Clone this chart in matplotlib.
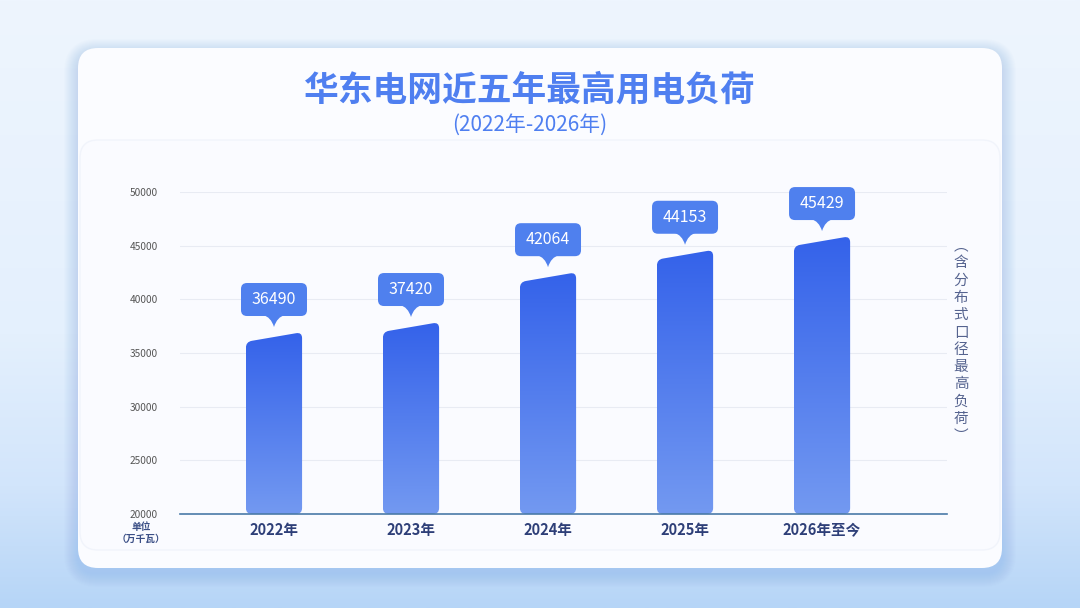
import matplotlib
matplotlib.use('Agg')
import matplotlib.pyplot as plt
import matplotlib.transforms as mtransforms
import numpy as np
from matplotlib.patches import FancyBboxPatch, PathPatch
from matplotlib.path import Path
from matplotlib.colors import LinearSegmentedColormap

plt.rcParams['font.family'] = ['Noto Sans CJK SC', 'DejaVu Sans']

# data
years = ['2022年', '2023年', '2024年', '2025年', '2026年至今']
peak_load = [36490, 37420, 42064, 44153, 45429]
y_ticks = [20000, 25000, 30000, 35000, 40000, 45000, 50000]
title = '华东电网近五年最高用电负荷'
subtitle = '(2022年-2026年)'
unit_lines = ['单位', '（万千瓦）']
side_note = '︵含分布式口径最高负荷︶'

W, H = 1080, 608
fig = plt.figure(figsize=(W / 100, H / 100), dpi=100)
ident = mtransforms.IdentityTransform()


def rounded_path(pts, radii):
    """closed polygon with rounded corners (display coords)"""
    pts = [np.asarray(p, float) for p in pts]
    n = len(pts)
    verts, codes = [], []
    for k in range(n):
        p = pts[k]
        a = pts[k - 1]
        b = pts[(k + 1) % n]
        r = radii[k]
        da = (a - p) / np.linalg.norm(a - p)
        db = (b - p) / np.linalg.norm(b - p)
        verts += [p + da * r, p, p + db * r]
        codes += [Path.MOVETO if k == 0 else Path.LINETO, Path.CURVE3, Path.CURVE3]
    verts.append(verts[0])
    codes.append(Path.CLOSEPOLY)
    return Path(verts, codes)


# ---- background ----
bg = fig.add_axes([0, 0, 1, 1])
bg.set_axis_off()
bg.set_xlim(0, W)
bg.set_ylim(H, 0)
bg_cmap = LinearSegmentedColormap.from_list(
    'bg', [(0, '#eef5fe'), (0.55, '#e4f0fd'), (0.8, '#d2e5fb'), (1, '#b6d5f7')])
grad = np.linspace(0, 1, 256).reshape(-1, 1)
bg.imshow(grad, extent=[0, W, H, 0], aspect='auto', cmap=bg_cmap, zorder=0)

# card shadow (soft blue glow)
for k in range(14, 0, -1):
    bg.add_patch(FancyBboxPatch((78 - k, 48 - k + 5), 924 + 2 * k, 520 + 2 * k,
                                boxstyle='round,pad=0,rounding_size=%d' % (20 + k),
                                fc='#7ea6f0', ec='none', alpha=0.025, zorder=1))
bg.add_patch(FancyBboxPatch((78, 48), 924, 520, boxstyle='round,pad=0,rounding_size=20',
                            fc='#fbfcff', ec='none', zorder=2))
bg.add_patch(FancyBboxPatch((80, 140), 920, 410, boxstyle='round,pad=0,rounding_size=18',
                            fc='#fafbff', ec='#f1f4fb', lw=1.0, zorder=3))

# ---- titles ----
fig.text(530 / W, 1 - 90 / H, title, ha='center', va='center', fontsize=25,
         fontweight='black', color='#4f7ff0')
fig.text(530 / W, 1 - 125 / H, subtitle, ha='center', va='center', fontsize=15,
         fontweight='medium', color='#4f7ff0')

# ---- chart ----
ax = fig.add_axes([180 / W, (H - 514) / H, 767 / W, 322 / H])
ax.patch.set_alpha(0)
ax.set_xlim(-0.686, 4.912)
ax.set_ylim(20000, 50000)
for s in ['top', 'right', 'left']:
    ax.spines[s].set_visible(False)
ax.spines['bottom'].set_color('#4a7aa8')
ax.spines['bottom'].set_linewidth(1.2)
ax.spines['bottom'].set_zorder(5)
ax.set_yticks(y_ticks)
ax.set_yticklabels([str(t) for t in y_ticks], fontsize=7.3, color='#555555')
ax.tick_params(axis='y', length=0, pad=16)
ax.grid(axis='y', color='#e8ebf3', linewidth=0.8)
ax.set_axisbelow(True)
x_pos = np.arange(len(years))
ax.set_xticks(x_pos)
ax.set_xticklabels(years, fontsize=10.5, fontweight='bold', color='#2e3f78')
ax.tick_params(axis='x', length=0, pad=6)

bar_cmap = LinearSegmentedColormap.from_list('bar', ['#7399f1', '#3462ea'])
bar_w = 0.41
slant = 450
for i, v in zip(x_pos, peak_load):
    bl = ax.transData.transform((i - bar_w / 2, 20000))
    br = ax.transData.transform((i + bar_w / 2, 20000))
    tr = ax.transData.transform((i + bar_w / 2, v + slant))
    tl = ax.transData.transform((i - bar_w / 2, v - slant))
    clip = PathPatch(rounded_path([bl, br, tr, tl], [6, 6, 6, 6]), transform=ident)
    g = np.linspace(0, 1, 256).reshape(-1, 1)[::-1]
    im = ax.imshow(g, extent=[i - bar_w / 2, i + bar_w / 2, 20000, v + slant],
                   aspect='auto', cmap=bar_cmap, origin='upper', zorder=3)
    im.set_clip_path(clip)

    # bubble label
    cx, cy = ax.transData.transform((i, v))
    tip_y = cy + 10
    bw, bh = 66, 33
    b_bottom = tip_y + 11
    box = FancyBboxPatch((cx - bw / 2, b_bottom), bw, bh,
                         boxstyle='round,pad=0,rounding_size=6',
                         fc='#4f80ee', ec='none', transform=ident, zorder=6)
    fig.add_artist(box)
    pointer = Path([(cx - 11, b_bottom + 1), (cx - 3, b_bottom - 1), (cx, tip_y),
                    (cx + 3, b_bottom - 1), (cx + 11, b_bottom + 1), (cx - 11, b_bottom + 1)],
                   [Path.MOVETO, Path.CURVE3, Path.CURVE3, Path.CURVE3, Path.CURVE3,
                    Path.CLOSEPOLY])
    fig.add_artist(PathPatch(pointer, fc='#4f80ee', ec='none', transform=ident, zorder=6))
    fig.text(cx, b_bottom + bh / 2, str(v), transform=ident, ha='center', va='center',
             fontsize=11.5, color='white', zorder=7)

ax.set_xlim(-0.686, 4.912)
ax.set_ylim(20000, 50000)

# unit label
fig.text(141 / W, 1 - 527 / H, unit_lines[0], ha='center', va='center', fontsize=7,
         fontweight='bold', color='#3b4f86')
fig.text(141 / W, 1 - 539 / H, unit_lines[1], ha='center', va='center', fontsize=7,
         fontweight='bold', color='#3b4f86')

# vertical side note
for k, ch in enumerate(side_note):
    fig.text(961 / W, 1 - (246 + k * 17.3) / H, ch, ha='center', va='center',
             fontsize=10.5, color='#55638f')

fig.savefig('out.png', dpi=100)
